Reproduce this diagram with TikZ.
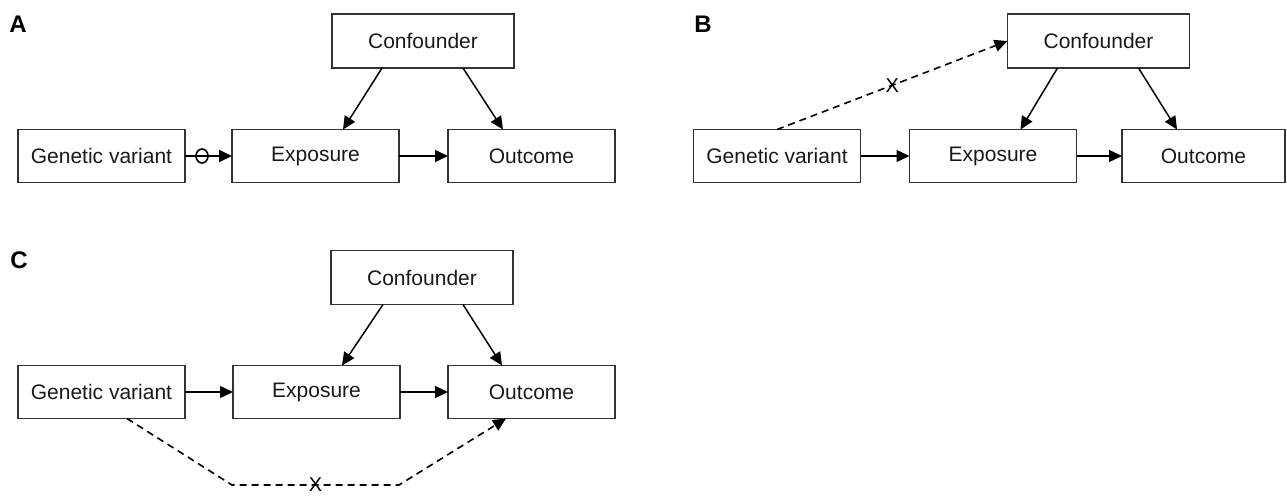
\documentclass[tikz,border=0pt]{standalone}
\usepackage{fontspec}
\setmainfont{Liberation Sans}
\usetikzlibrary{arrows.meta,calc}

\begin{document}
\begin{tikzpicture}[x=0.5pt,y=-0.5pt,
  box/.style={draw=black!80,line width=0.75pt,inner sep=0pt,outer sep=0pt,
    minimum width=83.5pt,minimum height=26.5pt,font=\fontsize{10.5}{12}\selectfont,text=black!90},
  cbox/.style={box,minimum width=91pt,minimum height=27pt},
  link/.style={draw=black,line width=0.75pt,-{Triangle[length=6.5pt,width=6pt]}},
  nolink/.style={link,line width=0.8pt,dash pattern=on 3.5pt off 2.5pt},
  panel/.style={font=\fontsize{12}{14}\selectfont\bfseries},
  cross/.style={inner sep=0pt,font=\fontsize{10}{12}\selectfont}]
\useasboundingbox (0,0) rectangle (1287,495);

% ---- A: instrument acting only through the exposure
\node[panel] (labA) at (18,24) {A};
\node[box]  (gvA) at (101.5,156) {Genetic variant};
\node[box]  (exA) at (315.5,156) {Exposure};
\node[box]  (ouA) at (531.5,156) {Outcome};
\node[cbox] (coA) at (423,41) {Confounder};
\draw[link,line width=1pt] (gvA.east) -- (exA.west);
\draw[line width=0.8pt] (202,156) ellipse [x radius=6, y radius=7];
\draw[link] (exA.east) -- (ouA.west);
\draw[link] ([xshift=-20.5pt]coA.south) -- ([xshift=13.75pt]exA.north);
\draw[link] ([xshift=20pt]coA.south) -- ([xshift=-14.25pt]ouA.north);

% ---- B: no association with the confounder
\node[panel] (labB) at (703,24) {B};
\node[box]  (gvB) at (777,156) {Genetic variant};
\node[box]  (exB) at (993,156) {Exposure};
\node[box,minimum width=81.5pt] (ouB) at (1203.5,156) {Outcome};
\node[cbox] (coB) at (1098.5,41) {Confounder};
\draw[link] (gvB.east) -- (exB.west);
\draw[link] (exB.east) -- (ouB.west);
\draw[link] ([xshift=-20.5pt]coB.south) -- ([xshift=13.75pt]exB.north);
\draw[link] ([xshift=20pt]coB.south) -- ([xshift=-13.25pt]ouB.north);
\draw[nolink] (gvB.north) -- node[cross] (xB) {X} (coB.west);

% ---- C: no direct path to the outcome
\node[panel] (labC) at (19,260) {C};
\node[box]  (gvC) at (101.5,392) {Genetic variant};
\node[box]  (exC) at (316.5,392) {Exposure};
\node[box]  (ouC) at (531.5,392) {Outcome};
\node[cbox] (coC) at (422,277.5) {Confounder};
\draw[link] (gvC.east) -- (exC.west);
\draw[link] (exC.east) -- (ouC.west);
\draw[link] ([xshift=-19.5pt]coC.south) -- ([xshift=12.75pt]exC.north);
\draw[link] ([xshift=20.5pt]coC.south) -- ([xshift=-14.75pt]ouC.north);
\coordinate (cL) at (232,485);
\coordinate (cR) at (399,485);
\draw[nolink] ([xshift=12.75pt]gvC.south) -- (cL) -- node[cross] (xC) {X} (cR) -- ([xshift=-12.75pt]ouC.south);
\end{tikzpicture}
\end{document}
